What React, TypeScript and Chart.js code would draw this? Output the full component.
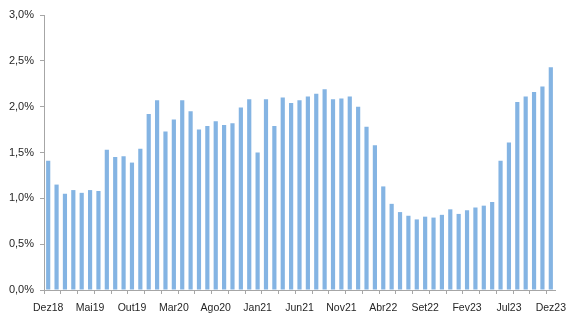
import React, { useEffect, useRef } from "react";
import { Chart, registerables } from "chart.js";

Chart.register(...registerables);

// Monthly categories Dez18 .. Dez23
const categories: string[] = [
  "Dez18",
  "Jan19", "Fev19", "Mar19", "Abr19", "Mai19", "Jun19", "Jul19", "Ago19", "Set19", "Out19", "Nov19", "Dez19",
  "Jan20", "Fev20", "Mar20", "Abr20", "Mai20", "Jun20", "Jul20", "Ago20", "Set20", "Out20", "Nov20", "Dez20",
  "Jan21", "Fev21", "Mar21", "Abr21", "Mai21", "Jun21", "Jul21", "Ago21", "Set21", "Out21", "Nov21", "Dez21",
  "Jan22", "Fev22", "Mar22", "Abr22", "Mai22", "Jun22", "Jul22", "Ago22", "Set22", "Out22", "Nov22", "Dez22",
  "Jan23", "Fev23", "Mar23", "Abr23", "Mai23", "Jun23", "Jul23", "Ago23", "Set23", "Out23", "Nov23", "Dez23",
];

// Values in percent
const values: number[] = [
  1.41,
  1.15, 1.05, 1.09, 1.06, 1.09, 1.08, 1.53, 1.45, 1.46, 1.39, 1.54, 1.92,
  2.07, 1.73, 1.86, 2.07, 1.95, 1.75, 1.79, 1.84, 1.80, 1.82, 1.99, 2.08,
  1.50, 2.08, 1.79, 2.10, 2.04, 2.07, 2.11, 2.14, 2.19, 2.08, 2.09, 2.11,
  2.00, 1.78, 1.58, 1.13, 0.94, 0.85, 0.81, 0.77, 0.80, 0.79, 0.82, 0.88,
  0.83, 0.87, 0.90, 0.92, 0.96, 1.41, 1.61, 2.05, 2.11, 2.16, 2.22, 2.43,
];

const yTickStep = 0.5;
const yMax = 3.0;
const labelEvery = 5;

const AXIS_GRAY = "#a6a6a6";
const BAR_BLUE = "#84b4e3";
const TEXT = "#262626";

export default function App() {
  const ref = useRef<HTMLCanvasElement | null>(null);

  useEffect(() => {
    if (!ref.current) return;
    const chart = new Chart(ref.current, {
      type: "bar",
      data: {
        labels: categories,
        datasets: [
          {
            data: values,
            backgroundColor: BAR_BLUE,
            borderWidth: 0,
            categoryPercentage: 1,
            barPercentage: 0.5,
          },
        ],
      },
      options: {
        animation: false,
        responsive: false,
        maintainAspectRatio: false,
        layout: { padding: { top: 15, right: 12, left: 0, bottom: 0 } },
        plugins: { legend: { display: false }, tooltip: { enabled: false } },
        scales: {
          x: {
            offset: true,
            border: { display: true, color: AXIS_GRAY, width: 1 },
            grid: {
              offset: true,
              drawOnChartArea: false,
              drawTicks: true,
              tickLength: 4,
              color: (ctx: any) => (ctx.index % 2 === 0 ? AXIS_GRAY : "rgba(0,0,0,0)"),
            },
            ticks: {
              autoSkip: false,
              maxRotation: 0,
              minRotation: 0,
              padding: 8,
              color: TEXT,
              font: { family: "Liberation Sans", size: 10.5 },
              callback: (_v: any, i: number) => (i % labelEvery === 0 ? categories[i] : ""),
            },
            afterFit: (s: any) => {
              s.height = 23;
              s.paddingLeft = 0;
              s.paddingRight = 0;
            },
          },
          y: {
            min: 0,
            max: yMax,
            border: { display: true, color: AXIS_GRAY, width: 1 },
            grid: {
              drawOnChartArea: false,
              drawTicks: true,
              tickLength: 4,
              color: AXIS_GRAY,
            },
            ticks: {
              stepSize: yTickStep,
              padding: 6,
              color: TEXT,
              font: { family: "Liberation Sans", size: 11 },
              callback: (v: any) => Number(v).toFixed(1).replace(".", ",") + "%",
            },
            afterFit: (s: any) => {
              s.width = 44;
            },
          },
        },
      },
    } as any);
    return () => chart.destroy();
  }, []);

  return (
    <div style={{ position: "fixed", left: 0, top: 0, width: 567, height: 313, background: "#fff" }}>
      <canvas ref={ref} width={567} height={313} style={{ width: 567, height: 313 }} />
    </div>
  );
}
